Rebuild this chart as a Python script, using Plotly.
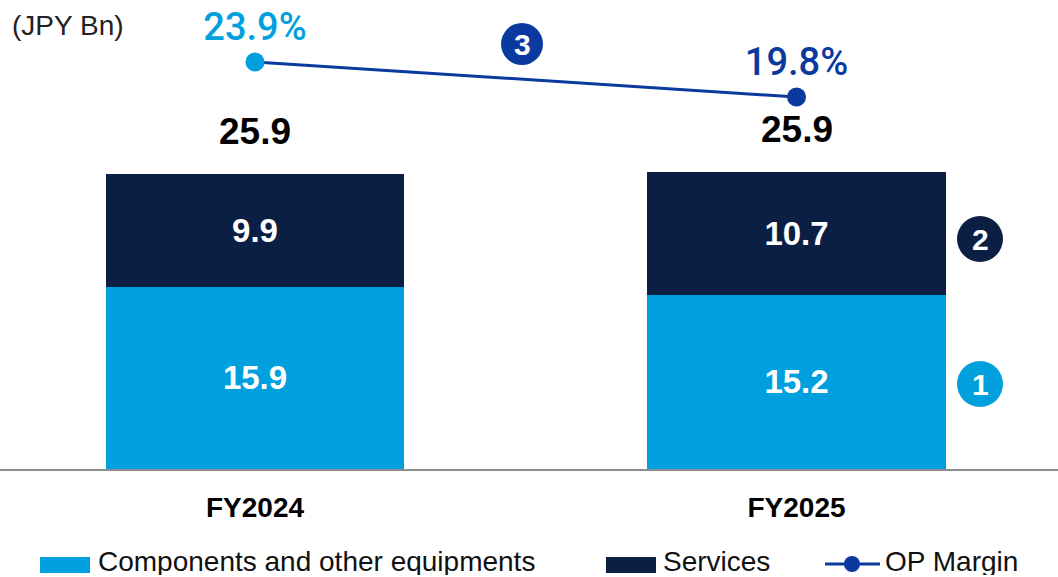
import plotly.graph_objects as go

categories = ["FY2024", "FY2025"]
components = [15.9, 15.2]
services = [9.9, 10.7]
totals_label = ["25.9", "25.9"]
op_margin = [23.9, 19.8]
op_margin_labels = ["23.9%", "19.8%"]

CYAN = "#009FDE"
NAVY = "#0B1E43"
BLUE = "#0A3A9F"
FONT = "Liberation Sans, Arial, sans-serif"

W, H = 1058, 577
PB = 469  # plot bottom in px


def px(x):
    return x / W


def py(y):
    return (PB - y) / PB


fig = go.Figure()

fig.add_trace(go.Bar(
    x=categories, y=components, name="Components and other equipments",
    marker=dict(color=CYAN, line=dict(width=0)), width=0.551,
    text=[f"{v:.1f}" for v in components], textposition="inside",
    insidetextanchor="middle", textangle=0,
    textfont=dict(family=FONT, size=33, color="white", weight="bold"),
    showlegend=False,
))
fig.add_trace(go.Bar(
    x=categories, y=services, name="Services",
    marker=dict(color=NAVY, line=dict(width=0)), width=0.551,
    text=[f"{v:.1f}" for v in services], textposition="inside",
    insidetextanchor="middle", textangle=0,
    textfont=dict(family=FONT, size=33, color="white", weight="bold"),
    showlegend=False,
))
fig.add_trace(go.Scatter(
    x=categories, y=op_margin, yaxis="y2", name="OP Margin",
    mode="lines+markers+text", text=op_margin_labels, textposition="top center",
    textfont=dict(family="Roboto, Liberation Sans, sans-serif", size=38,
                  color=[CYAN, BLUE], weight=500),
    line=dict(color=BLUE, width=3),
    marker=dict(color=[CYAN, BLUE], size=19),
    showlegend=False, cliponaxis=False,
))

annotations = []
for c, a, b, t in zip(categories, components, services, totals_label):
    annotations.append(dict(
        x=c, y=a + b, xref="x", yref="y", text=t, showarrow=False,
        yanchor="bottom", yshift=20,
        font=dict(family=FONT, size=37, color="black", weight="bold"),
    ))

annotations.append(dict(
    x=px(10), y=py(26), xref="paper", yref="paper", text="(JPY Bn)",
    showarrow=False, xanchor="left", yanchor="middle",
    font=dict(family=FONT, size=28, color="#222222"),
))

shapes = []
circles = [("3", 522, 44, 21, BLUE), ("2", 980, 239, 23, NAVY), ("1", 980, 384, 23, CYAN)]
for label, cx, cy, r, col in circles:
    shapes.append(dict(type="circle", xref="paper", yref="paper",
                       x0=px(cx - r), x1=px(cx + r), y0=py(cy + r), y1=py(cy - r),
                       fillcolor=col, line=dict(width=0)))
    annotations.append(dict(x=px(cx), y=py(cy), xref="paper", yref="paper", text=label,
                            showarrow=False, xanchor="center", yanchor="middle",
                            font=dict(family=FONT, size=30, color="white", weight="bold")))

# custom legend
shapes.append(dict(type="rect", xref="paper", yref="paper", x0=px(40), x1=px(90),
                   y0=py(573), y1=py(557), fillcolor=CYAN, line=dict(width=0)))
shapes.append(dict(type="rect", xref="paper", yref="paper", x0=px(606), x1=px(656),
                   y0=py(573), y1=py(557), fillcolor=NAVY, line=dict(width=0)))
shapes.append(dict(type="line", xref="paper", yref="paper", x0=px(825), x1=px(880),
                   y0=py(564), y1=py(564), line=dict(color=BLUE, width=3)))
shapes.append(dict(type="circle", xref="paper", yref="paper", x0=px(844), x1=px(860),
                   y0=py(572), y1=py(556), fillcolor=BLUE, line=dict(width=0)))
for txt, x0 in [("Components and other equipments", 97), ("Services", 662), ("OP Margin", 884)]:
    annotations.append(dict(x=px(x0), y=py(561), xref="paper", yref="paper", text=txt,
                            showarrow=False, xanchor="left", yanchor="middle",
                            height=28, borderpad=0, valign="middle",
                            font=dict(family=FONT, size=28, color="#111111")))

fig.update_layout(
    width=W, height=H, barmode="stack",
    margin=dict(l=0, r=0, t=0, b=H - PB, pad=0),
    paper_bgcolor="white", plot_bgcolor="white",
    xaxis=dict(range=[-0.4709, 1.4829], showline=True, linecolor="#8c8c8c", linewidth=2,
               showgrid=False, zeroline=False, ticks="", ticklabelstandoff=12,
               tickfont=dict(family=FONT, size=28, color="black", weight="bold")),
    yaxis=dict(range=[0, PB / 11.45], visible=False, showgrid=False),
    yaxis2=dict(range=[-23.76, 31.16], overlaying="y", visible=False, showgrid=False),
    shapes=shapes, annotations=annotations,
    showlegend=False,
)

fig.write_html("out.html")
